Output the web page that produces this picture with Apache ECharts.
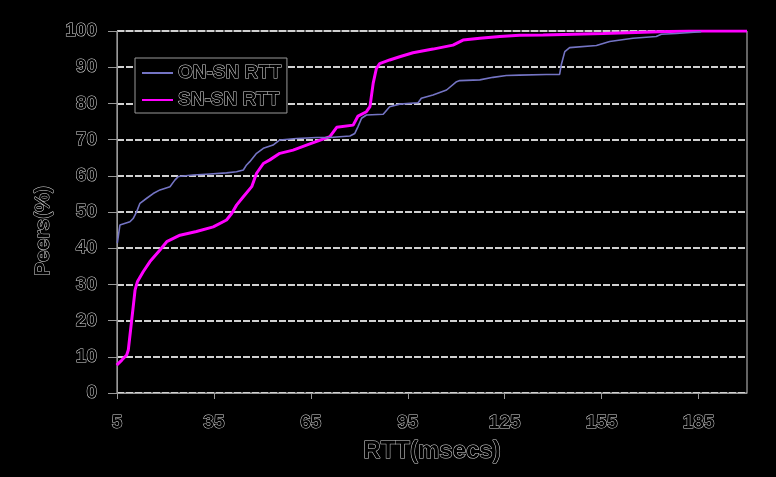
<!DOCTYPE html>
<html>
<head>
<meta charset="utf-8">
<script src="https://cdn.jsdelivr.net/npm/echarts@6/dist/echarts.min.js"></script>
<style>html,body{margin:0;padding:0;background:#000;}#c{width:776px;height:477px;}</style>
</head>
<body>
<div id="c"></div>
<script>
var seriesNames = ['ON-SN RTT', 'SN-SN RTT'];
var xTicks = [5, 35, 65, 95, 125, 155, 185];
var yTicks = [0, 10, 20, 30, 40, 50, 60, 70, 80, 90, 100];

var onX = [5.1, 5.9, 6.5, 9.0, 10.0, 11.1, 12.1, 14.2, 16.2, 18.3, 21.4, 22.9, 24.0, 28.6, 33.8, 38.9, 42.0, 44.1, 45.1, 46.1, 48.2, 50.3, 53.3, 55.4, 60.6, 66.8, 70.9, 77.1, 78.6, 79.6, 80.7, 82.2, 87.4, 89.4, 92.5, 98.2, 99.2, 102.8, 107.0, 110.1, 111.1, 117.3, 121.4, 125.5, 129.6, 137.9, 142.0, 142.5, 143.6, 145.1, 153.4, 157.5, 164.7, 171.9, 173.5, 178.1, 185.8];
var onY = [41.4, 46.4, 46.9, 47.3, 48.2, 50.1, 52.4, 53.8, 55.1, 56.1, 57.0, 58.8, 59.8, 60.2, 60.5, 60.8, 61.1, 61.6, 63.0, 63.9, 66.2, 67.6, 68.5, 69.9, 70.3, 70.6, 70.6, 71.0, 71.7, 73.6, 75.9, 76.8, 77.0, 79.1, 79.8, 80.2, 81.4, 82.3, 83.7, 86.0, 86.3, 86.5, 87.2, 87.7, 87.8, 88.0, 88.0, 90.6, 94.3, 95.4, 96.0, 97.1, 98.0, 98.5, 99.1, 99.3, 99.8];

var snX = [4.9, 6.5, 8.0, 8.5, 9.2, 9.9, 10.6, 11.3, 13.1, 15.2, 18.3, 20.4, 24.5, 29.6, 34.8, 38.9, 40.5, 42.0, 44.1, 46.7, 48.2, 50.3, 52.3, 55.4, 59.5, 64.7, 70.9, 73.0, 78.1, 79.6, 82.2, 83.3, 84.3, 85.3, 86.3, 89.4, 92.5, 96.6, 102.8, 109.0, 112.1, 117.3, 123.5, 129.6, 136.9, 155.4, 173.0, 182.0, 200];
var snY = [7.7, 9.1, 10.5, 11.9, 17.4, 22.9, 28.5, 30.7, 33.5, 36.3, 39.5, 41.8, 43.6, 44.6, 45.9, 47.8, 49.6, 51.9, 54.2, 57.0, 60.7, 63.4, 64.4, 66.2, 67.1, 68.8, 70.8, 73.4, 74.0, 76.5, 77.7, 79.1, 85.6, 89.7, 91.0, 92.0, 92.9, 94.0, 95.0, 96.1, 97.5, 98.0, 98.5, 98.8, 98.9, 99.3, 99.8, 100, 100];

function pairs(xs, ys) { return xs.map(function (x, i) { return [x, ys[i]]; }); }

var outlined = {
  color: '#000',
  textBorderColor: '#d8d8d8',
  textBorderWidth: 1,
  fontFamily: 'Liberation Sans, Arial, sans-serif',
  fontWeight: 'bold'
};
function ts(extra) { return Object.assign({}, outlined, extra); }

var chart = echarts.init(document.getElementById('c'));
chart.setOption({
  backgroundColor: '#000',
  animation: false,
  grid: {
    left: 117, right: 29, top: 31, bottom: 84,
    show: true, borderColor: '#c8c8c8', borderWidth: 1, backgroundColor: '#000'
  },
  legend: {
    orient: 'vertical',
    left: 135, top: 58,
    padding: [5, 5, 3, 6],
    itemGap: 7,
    itemWidth: 31,
    itemHeight: 14,
    backgroundColor: '#000',
    borderColor: '#999',
    borderWidth: 1,
    itemStyle: { opacity: 0 },
    data: seriesNames,
    textStyle: ts({ fontSize: 19 })
  },
  xAxis: {
    type: 'value',
    min: 5, max: 200,
    name: 'RTT(msecs)',
    nameLocation: 'middle',
    nameGap: 46,
    nameTextStyle: ts({ fontSize: 24 }),
    axisLine: { show: true, lineStyle: { color: '#999', width: 1 } },
    axisTick: { show: true, length: 6, customValues: xTicks, lineStyle: { color: '#999' } },
    axisLabel: ts({ margin: 20, customValues: xTicks, fontSize: 19 }),
    splitLine: { show: false }
  },
  yAxis: {
    type: 'value',
    min: 0, max: 100, interval: 10,
    name: 'Peers(%)',
    nameLocation: 'middle',
    nameGap: 61,
    nameTextStyle: ts({ fontSize: 21, padding: [0, 38, 0, 0] }),
    axisLine: { show: true, lineStyle: { color: '#999', width: 1 } },
    axisTick: { show: true, length: 9, lineStyle: { color: '#999' } },
    axisLabel: ts({ margin: 20, fontSize: 19 }),
    splitLine: { show: true, lineStyle: { color: '#d0d0d0', width: 2, type: [7, 2] } }
  },
  series: [
    {
      name: seriesNames[0], type: 'line', symbol: 'none', smooth: false,
      data: pairs(onX, onY), z: 3,
      lineStyle: { color: '#7474c4', width: 1.6 },
      itemStyle: { color: '#7474c4' }
    },
    {
      name: seriesNames[1], type: 'line', symbol: 'none', smooth: false,
      data: pairs(snX, snY), z: 2,
      lineStyle: { color: '#ff00ff', width: 3 },
      itemStyle: { color: '#ff00ff' }
    }
  ]
});
</script>
</body>
</html>
